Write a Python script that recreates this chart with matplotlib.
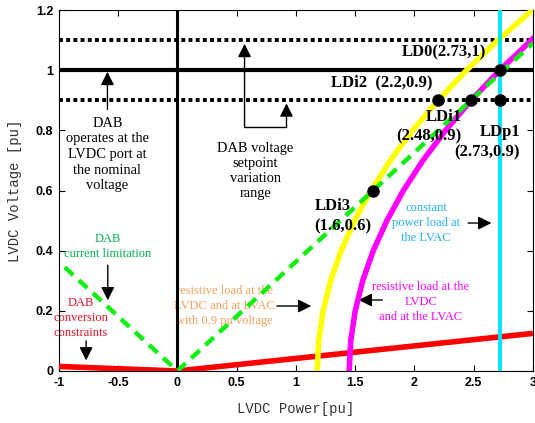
import numpy as np
import matplotlib
matplotlib.use('Agg')
import matplotlib.pyplot as plt

# values
v_steps = [0.0, 0.1, 0.2, 0.3, 0.4, 0.5, 0.6, 0.7, 0.8, 0.9, 1.0, 1.1, 1.2]
yellow_p = [1.18, 1.193, 1.23, 1.293, 1.382, 1.495, 1.634, 1.797, 1.986, 2.201, 2.44, 2.705, 2.994]
magenta_v = [0.0, 0.1, 0.2, 0.3, 0.4, 0.5, 0.6, 0.7, 0.8, 0.9, 1.0, 1.105]
magenta_p = [1.45, 1.463, 1.501, 1.564, 1.653, 1.768, 1.907, 2.072, 2.263, 2.479, 2.72, 3.0]
green_p = [-0.95, 0.0, 3.0]
green_v = [0.345, 0.0, 1.09]
red_p = [-1.0, 0.0, 3.0]
red_v = [0.015, 0.0, 0.125]
cyan_p = 2.72
nominal_v = 1.0
band_v = [0.9, 1.1]
point_p = [2.2, 2.48, 2.72, 2.72, 1.65]
point_v = [0.9, 0.9, 0.9, 1.0, 0.6]

xticks = [-1, -0.5, 0, 0.5, 1, 1.5, 2, 2.5, 3]
xticklabels = ['-1', '-0.5', '0', '0.5', '1', '1.5', '2', '2.5', '3']
yticks = [0, 0.2, 0.4, 0.6, 0.8, 1.0, 1.2]
yticklabels = ['0', '0.2', '0.4', '0.6', '0.8', '1', '1.2']

serif = 'Liberation Serif'

fig = plt.figure(figsize=(5.35, 4.23), dpi=100)
ax = fig.add_axes([0.110, 0.123, 0.886, 0.853])

# reference lines
ax.axvline(0, color='k', lw=2.2, zorder=2)
ax.axhline(nominal_v, color='k', lw=3.0, zorder=2)
for v in band_v:
    ax.axhline(v, color='k', lw=2.8, ls=(0, (1, 0.85)), dash_capstyle='butt', zorder=2)

# operating curves
ax.plot(red_p, red_v, color='#ff0000', lw=4.0, solid_capstyle='butt', zorder=3)
ax.plot(yellow_p, v_steps, color='#ffff00', lw=4.0, zorder=4)
ax.plot(magenta_p, magenta_v, color='#ff00ff', lw=4.0, zorder=4)
ax.axvline(cyan_p, color='#00e5ff', lw=2.8, zorder=5)
ax.plot(green_p, green_v, color='#11ee11', lw=3.2, ls=(0, (2.6, 1.7)), zorder=6)
ax.plot(point_p, point_v, 'o', color='k', ms=8, zorder=7)

ax.set_xlim(-1, 3)
ax.set_ylim(0, 1.2)
ax.set_xticks(xticks)
ax.set_xticklabels(xticklabels)
ax.set_yticks(yticks)
ax.set_yticklabels(yticklabels)
ax.tick_params(direction='in', top=True, right=True, length=4, width=0.8, pad=4)
for lab in ax.get_xticklabels() + ax.get_yticklabels():
    lab.set_fontfamily('Liberation Sans')
    lab.set_fontweight('bold')
    lab.set_fontsize(9)
for s in ax.spines.values():
    s.set_linewidth(0.8)

ax.set_xlabel('LVDC Power[pu]', fontfamily='Liberation Mono', fontsize=10, labelpad=10, color='#333333')
ax.set_ylabel('LVDC Voltage [pu]', fontfamily='Liberation Mono', fontsize=10, labelpad=10, color='#333333')

arrow = dict(arrowstyle='-|>', color='k', lw=1.0, mutation_scale=20, shrinkA=0, shrinkB=0)
note = dict(ha='center', va='center', fontfamily=serif, fontsize=10.4, linespacing=1.2, zorder=1)
cnote = dict(note, fontsize=9, linespacing=1.3)

# black annotations
ax.text(-0.59, 0.72, 'DAB\noperates at the\nLVDC port at\nthe nominal\nvoltage',
        **dict(note, linespacing=1.27))
ax.annotate('', xy=(-0.59, 0.995), xytext=(-0.59, 0.87), arrowprops=arrow)

ax.text(0.66, 0.665, 'DAB voltage\nsetpoint\nvariation\nrange', **dict(note, linespacing=1.17))
ax.annotate('', xy=(0.567, 1.088), xytext=(0.567, 0.81), arrowprops=arrow)
ax.plot([0.567, 0.921], [0.81, 0.81], color='k', lw=1.0)
ax.annotate('', xy=(0.921, 0.89), xytext=(0.921, 0.81), arrowprops=arrow)

# coloured annotations
ax.text(-0.59, 0.414, 'DAB\ncurrent limitation', color='#00b050', **cnote)
ax.annotate('', xy=(-0.587, 0.235), xytext=(-0.587, 0.352), arrowprops=arrow)

ax.text(-0.815, 0.176, 'DAB\nconversion\nconstraints', color='#e0102a', **cnote)
ax.annotate('', xy=(-0.77, 0.035), xytext=(-0.77, 0.1), arrowprops=arrow)

ax.text(0.394, 0.216, 'resistive load at the\nLVDC and at LVAC\nwith 0.9 pu voltage',
        color='#f5a05a', **cnote)
ax.annotate('', xy=(1.13, 0.216), xytext=(0.84, 0.216), arrowprops=arrow)

ax.text(2.054, 0.229, 'resistive load at the\nLVDC\nand at the LVAC', color='#ff00ff', **cnote)
ax.annotate('', xy=(1.53, 0.236), xytext=(1.73, 0.236), arrowprops=arrow)

ax.text(2.10, 0.492, 'constant\npower load at\nthe LVAC', color='#20b0f0', **cnote)
ax.annotate('', xy=(2.65, 0.492), xytext=(2.454, 0.492), arrowprops=arrow)

# operating point labels
bold = dict(fontfamily=serif, fontsize=12, fontweight='bold', ha='center', va='center', zorder=8)
ax.text(2.25, 1.06, 'LD0(2.73,1)', **bold)
ax.text(1.725, 0.96, 'LDi2  (2.2,0.9)', **bold)
ax.text(2.25, 0.845, 'LDi1', **bold)
ax.text(2.126, 0.78, '(2.48,0.9)', **bold)
ax.text(2.724, 0.795, 'LDp1', **bold)
ax.text(2.614, 0.728, '(2.73,0.9)', **bold)
ax.text(1.31, 0.548, 'LDi3', **bold)
ax.text(1.397, 0.48, '(1.6,0.6)', **bold)

plt.savefig('out.png', dpi=100)
